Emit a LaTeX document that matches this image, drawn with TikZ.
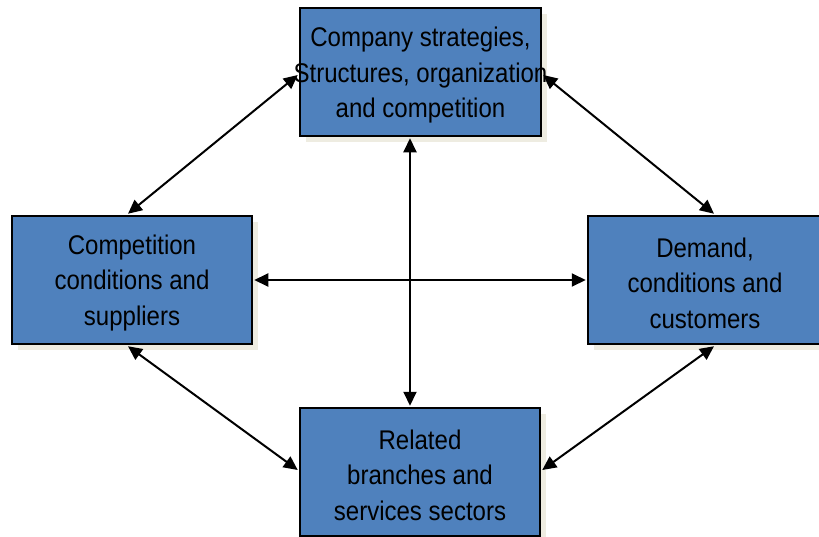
\documentclass[tikz,border=0pt]{standalone}
\usepackage{fontspec}
\setmainfont{Liberation Sans}[FakeStretch=0.89]
\usetikzlibrary{arrows.meta,calc,shadows}
\definecolor{boxblue}{HTML}{4F81BD}
\definecolor{shadowc}{HTML}{EEECE1}
\begin{document}
\begin{tikzpicture}[x=1pt,y=-1pt,
  box/.style={rectangle, draw=black, line width=2.5pt, fill=boxblue,
    minimum height=128pt, inner sep=0pt,
    drop shadow={shadow xshift=6pt, shadow yshift=-6pt, fill=shadowc, opacity=1}},
  boxtext/.style={inner sep=0pt, align=center, font=\fontsize{27}{35.5}\selectfont},
  link/.style={line width=2pt, {Triangle[length=14pt,width=13pt]}-{Triangle[length=14pt,width=13pt]}}]
\useasboundingbox (0,0) rectangle (819,536);
\node[box, minimum width=241pt] (T) at (420.5,72) {};
\node[box, minimum width=240pt] (L) at (132,280) {};
\node[box, minimum width=234pt] (R) at (705,280) {};
\node[box, minimum width=240pt] (B) at (420,472) {};
\node[boxtext] (Tt) at ($(T.center)+(0,3.5)$) {Company strategies,\\\makebox[0pt]{Structures, organization}\\and competition};
\node[boxtext] (Lt) at ($(L.center)+(0,3)$) {Competition\\conditions and\\suppliers};
\node[boxtext] (Rt) at ($(R.center)+(0,3)$) {Demand,\\conditions and\\customers};
\node[boxtext] (Bt) at ($(B.center)+(0,3)$) {Related\\branches and\\services sectors};
\draw[link] ($(L.north)+(-4,-1)$) -- ($(T.west)+(-1,3)$);
\draw[link] ($(T.east)+(1,3)$) -- ($(R.north)+(9,-1)$);
\draw[link] ($(L.south)+(-4,1)$) -- ($(B.west)+(-1,-2)$);
\draw[link] ($(R.south)+(9,1)$) -- ($(B.east)+(1,-2)$);
\draw[link] ($(T.south)+(-10.5,1)$) -- ($(B.north)+(-10,-1)$);
\draw[link] ($(L.east)+(1,0)$) -- ($(R.west)+(-1,0)$);
\end{tikzpicture}
\end{document}
